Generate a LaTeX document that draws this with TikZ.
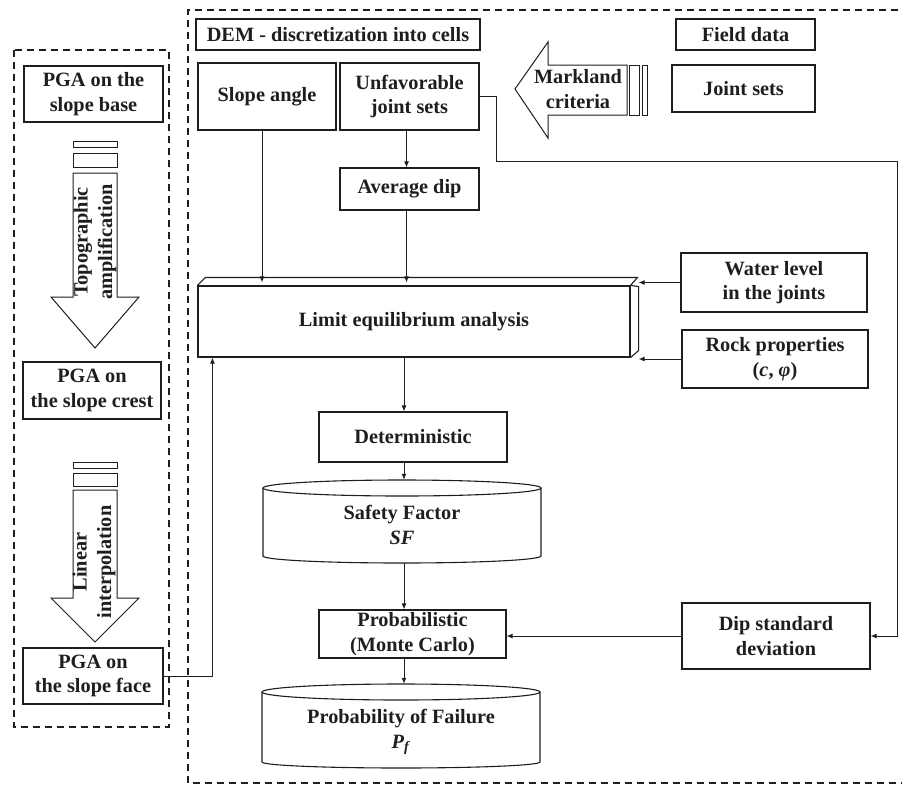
\documentclass[tikz,border=0pt]{standalone}
\usepackage{fontspec}
\setmainfont{Liberation Serif}
\usetikzlibrary{arrows.meta}
\definecolor{ink}{RGB}{30,30,30}
\newcommand\mybox[6]{\node[box, minimum width={#4-#2}, minimum height={#5-#3}] (#1) at ({(#2+#4)/2},{(#3+#5)/2}) {#6};}
\begin{document}
\begin{tikzpicture}[x=1pt,y=-1pt,
  fnt/.style={font=\fontsize{20.3}{24.5}\selectfont\bfseries, text=ink},
  box/.style={draw=ink, line width=1.1pt, align=center, inner sep=0pt, fnt},
  plain/.style={align=center, inner sep=0pt, fnt},
  arr/.style={draw=ink, line width=1pt, -{Latex[length=6pt,width=5pt]}},
  ln/.style={draw=ink, line width=1.1pt},
  dashbox/.style={draw=ink, line width=1.3pt, dash pattern=on 7pt off 5pt},
  bigarrow/.style={draw=ink, line width=1pt, fill=white}
]
\useasboundingbox (0,0) rectangle (902,785);

% dashed frames
\draw[dashbox] (14,50) rectangle (169,727);
\draw[dashbox] (910,10) -- (188,10) -- (188,783) -- (910,783);

% left column
\mybox{pgabase}{24}{66}{163}{122}{PGA on the\\slope base}
\mybox{pgacrest}{23}{362}{161}{419}{PGA on\\the slope crest}
\mybox{pgaface}{23}{648}{163}{704}{PGA on\\the slope face}

% big arrow 1
\draw[bigarrow] (73,141) rectangle (117,147);
\draw[bigarrow] (73,153) rectangle (117,167);
\draw[bigarrow] (73,173) -- (117,173) -- (117,297) -- (139,297) -- (95,348) -- (51,297) -- (73,297) -- cycle;
\node[plain, rotate=90] (topo) at (95,242) {Topographic\\amplification};

% big arrow 2
\draw[bigarrow] (73,462) rectangle (117,468);
\draw[bigarrow] (73,473) rectangle (117,486);
\draw[bigarrow] (73,490) -- (117,490) -- (117,598) -- (139,598) -- (95,642) -- (51,598) -- (73,598) -- cycle;
\node[plain, rotate=90] (linint) at (94,562) {Linear\\interpolation};

% right part top
\mybox{dem}{196}{19}{480}{50}{DEM - discretization into cells}
\mybox{slope}{198}{63}{336}{130}{Slope angle}
\mybox{unfav}{340}{63}{479}{130}{Unfavorable\\joint sets}
\mybox{avgdip}{340}{168}{479}{210}{Average dip}
\mybox{field}{676}{19}{815}{50}{Field data}
\mybox{joints}{672}{65}{815}{112}{Joint sets}

% Markland arrow
\draw[bigarrow] (627,65) -- (548,65) -- (548,42) -- (515,89) -- (548,138) -- (548,115) -- (627,115) -- cycle;
\draw[bigarrow] (629,65) rectangle (639,115);
\draw[bigarrow] (642,65) rectangle (647,115);
\node[plain] (markland) at (578,89) {Markland\\criteria};

% limit equilibrium 3D box
\mybox{lea}{198}{286}{630}{357}{Limit equilibrium analysis}
\draw[ln] (lea.north west) -- ++(8,-8) -- ++(432,0) -- (lea.north east);
\draw[ln] (lea.south east) -- ++(8,-7) -- ++(0,-64) -- (lea.north east);
\coordinate (leatop) at ([yshift=3pt]lea.north);
\coordinate (leaR) at ([xshift=8pt]lea.east);

\mybox{water}{681}{253}{867}{312}{Water level\\in the joints}
\mybox{rock}{682}{330}{868}{388}{Rock properties\\(\textit{c}, \textit{φ})}

\mybox{det}{319}{412}{507}{462}{Deterministic}
\mybox{prob}{319}{610}{506}{658}{Probabilistic\\(Monte Carlo)}
\mybox{dipsd}{682}{603}{870}{669}{Dip standard\\deviation}

% cylinders
\node[plain, minimum width=278, minimum height=83] (sf) at (402,521.5) {};
\node[plain] (sftxt) at (402,525) {Safety Factor\\\textit{SF}};
\draw[ln] (402,488) ellipse [x radius=139pt, y radius=8pt];
\draw[ln] (263,488) -- (263,556) arc[start angle=180, end angle=360, x radius=139pt, y radius=7pt] -- (541,488);

\node[plain, minimum width=278, minimum height=84] (pf) at (401,726) {};
\node[plain] (pftxt) at (401,732) {Probability of Failure\\\textit{P}\textsubscript{\textit{f}}};
\draw[ln] (401,692) ellipse [x radius=139pt, y radius=8pt];
\draw[ln] (262,692) -- (262,762) arc[start angle=180, end angle=360, x radius=139pt, y radius=6pt] -- (540,692);

% connectors
\coordinate (spine) at (404,0);
\draw[arr] ([xshift=-5pt]slope.south) -- ([xshift=-5pt]slope.south |- leatop);
\draw[arr] ([xshift=-3pt]unfav.south) -- ([xshift=-3pt]unfav.south |- avgdip.north);
\draw[arr] ([xshift=-3pt]avgdip.south) -- ([xshift=-3pt]avgdip.south |- leatop);
\draw[arr] (water.west) -- (water.west -| leaR);
\draw[arr] (rock.west) -- (rock.west -| leaR);
\draw[arr] (lea.south -| spine) -- (det.north -| spine);
\draw[arr] (det.south -| spine) -- (sf.north -| spine);
\draw[arr] (sf.south -| spine) -- (prob.north -| spine);
\draw[arr] (prob.south -| spine) -- (pf.north -| spine);
\draw[arr] (dipsd.west) -- (dipsd.west -| prob.east);
\coordinate (c1) at (496,161);
\coordinate (c2) at (897,161);
\draw[arr] (unfav.east) -| (c1) -- (c2) |- (dipsd.east);
\draw[arr] (pgaface.east) -| ([xshift=15pt]lea.south west);
\end{tikzpicture}
\end{document}
